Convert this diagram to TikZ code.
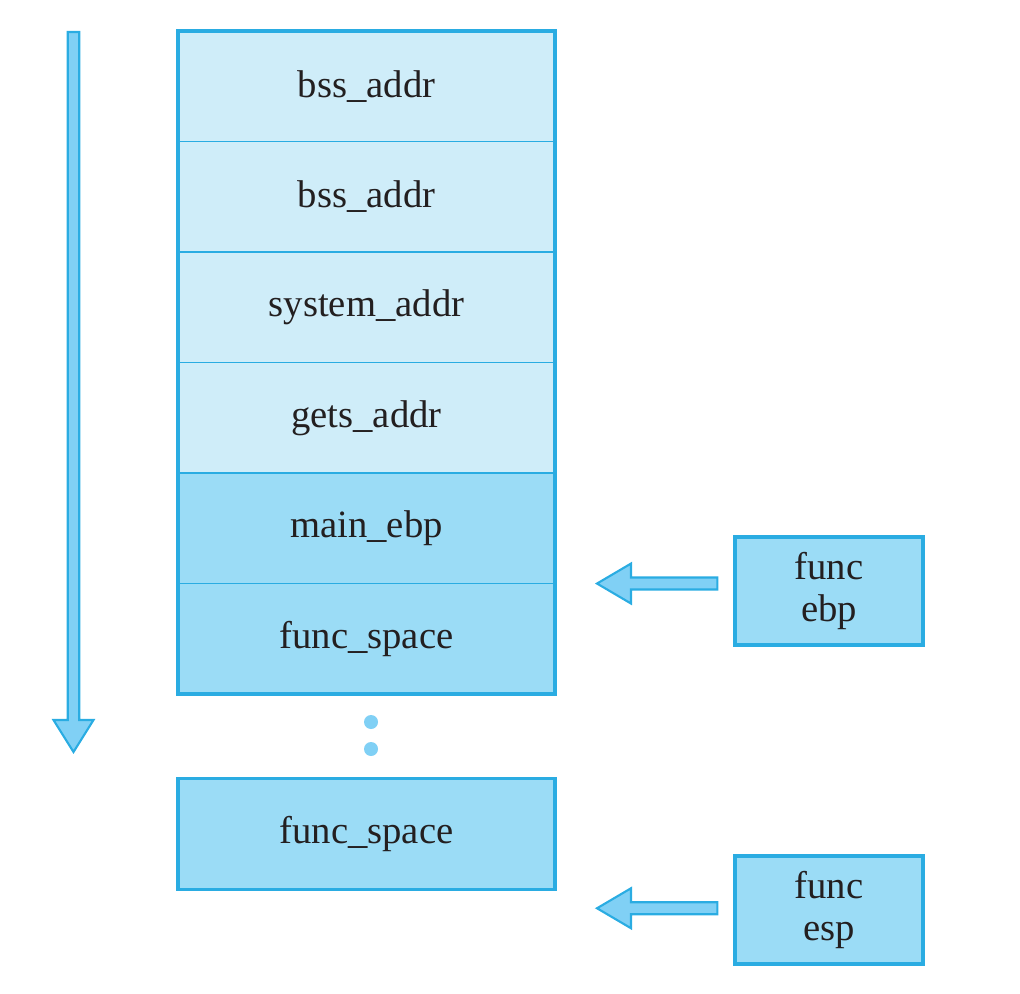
\documentclass[tikz,border=0pt]{standalone}
\usepackage{fontspec}
\setmainfont{Liberation Serif}
\usetikzlibrary{calc,positioning}
\definecolor{cellline}{HTML}{2AACE2}
\definecolor{celllight}{HTML}{CFEDF9}
\definecolor{celldark}{HTML}{9BDCF6}
\definecolor{arrowfill}{HTML}{80D0F5}
\definecolor{textgray}{HTML}{231F20}
\tikzset{
  cell/.style={draw=cellline, line width=0.45pt, outer sep=0pt, minimum width=3.77cm, minimum height=1.105cm, inner sep=0pt, text=textgray, font=\fontsize{11}{12}\selectfont},
  lightcell/.style={cell, fill=celllight},
  darkcell/.style={cell, fill=celldark},
  regbox/.style={draw=cellline, line width=0.9pt, fill=celldark, minimum width=1.88cm, minimum height=1.08cm, align=center, text=textgray, font=\fontsize{11}{12}\selectfont},
  fat/.style={draw=cellline, line width=0.6pt, fill=arrowfill, line join=miter}
}
% fat arrow pointing left: \fatleft(tail)(tip)
\def\fatleft(#1)(#2){\draw[fat] ($(#1)+(0,0.06)$) -- ($(#2)+(0.34,0.06)$) -- ($(#2)+(0.34,0.2)$) -- (#2) -- ($(#2)+(0.34,-0.2)$) -- ($(#2)+(0.34,-0.06)$) -- ($(#1)+(0,-0.06)$) -- cycle;}
\begin{document}
\begin{tikzpicture}
				\useasboundingbox (0,0) rectangle (10.2,9.93);
				
				% stack
				\node[lightcell] (c1) at (3.665, 9.067) {bss\_addr};
				\node[lightcell, below=0pt of c1] (c2) {bss\_addr};
				\node[lightcell, below=0pt of c2] (c3) {system\_addr};
				\node[lightcell, below=0pt of c3] (c4) {gets\_addr};
				\node[darkcell, below=0pt of c4] (c5) {main\_ebp};
				\node[darkcell, below=0pt of c5] (c6) {func\_space};
				\draw[cellline, line width=0.9pt] (c1.north west) rectangle (c6.south east);
				
				\fill[arrowfill] (3.71, 2.71) circle (0.07);
				\fill[arrowfill] (3.71, 2.44) circle (0.07);
				
				\node[darkcell, line width=0.9pt] (fs) at (3.665, 1.59) {func\_space};
				
				% registers
				\node[regbox] (ebp) at (8.29, 4.02) {func\\ebp};
				\node[regbox] (esp) at (8.29, 0.83) {func\\esp};
				
				\coordinate (ebptip) at ($(c6.north east)+(0.42,0)$);
				\coordinate (ebptail) at ($(ebptip -| ebp.west)+(-0.16,0)$);
				\fatleft(ebptail)(ebptip);
				
				\coordinate (esptip) at ($(fs.south east)+(0.42,-0.19)$);
				\coordinate (esptail) at ($(esptip -| esp.west)+(-0.16,0)$);
				\fatleft(esptail)(esptip);
				
				% growth direction
				\coordinate (growtop) at (0.735, 9.61);
				\coordinate (growtip) at (0.735, 2.41);
				\draw[fat] ($(growtop)+(-0.057,0)$) -- ($(growtip)+(-0.057,0.32)$) -- ($(growtip)+(-0.2,0.32)$) -- (growtip) -- ($(growtip)+(0.2,0.32)$) -- ($(growtip)+(0.057,0.32)$) -- ($(growtop)+(0.057,0)$) -- cycle;
			\end{tikzpicture}
\end{document}
